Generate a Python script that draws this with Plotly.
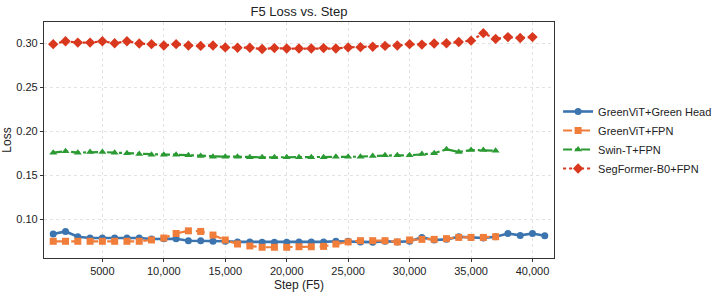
import plotly.graph_objects as go

steps = [1000 * i for i in range(1, 42)]

greenvit_gh = [0.083, 0.086, 0.080, 0.0785, 0.0786, 0.0786, 0.0785, 0.0786, 0.0774, 0.0777,
               0.0777, 0.0755, 0.0755, 0.0748, 0.0748, 0.0741, 0.0741, 0.0738, 0.0738, 0.0738,
               0.0741, 0.0741, 0.0741, 0.0748, 0.0748, 0.0741, 0.0738, 0.0748, 0.0741, 0.0748,
               0.0792, 0.0763, 0.077, 0.080, 0.0792, 0.0785, 0.080, 0.0837, 0.0815, 0.0837,
               0.081]
greenvit_fpn = [0.0748, 0.0748, 0.0748, 0.0748, 0.0748, 0.0748, 0.0748, 0.0748, 0.0763, 0.0785,
                0.0837, 0.0867, 0.086, 0.0819, 0.0763, 0.0717, 0.0695, 0.068, 0.068, 0.068,
                0.0686, 0.0686, 0.069, 0.0717, 0.0741, 0.0755, 0.0755, 0.0755, 0.0741, 0.0763,
                0.077, 0.077, 0.0778, 0.0792, 0.0792, 0.0792, 0.080]
swin_fpn = [0.1756, 0.1771, 0.1756, 0.1764, 0.1764, 0.1756, 0.1749, 0.1741, 0.1733, 0.1733,
            0.1733, 0.1726, 0.1718, 0.171, 0.171, 0.171, 0.1703, 0.1703, 0.1703, 0.1703,
            0.1703, 0.1703, 0.1703, 0.171, 0.171, 0.171, 0.1718, 0.1726, 0.1726, 0.1726,
            0.1741, 0.1749, 0.1794, 0.1764, 0.1786, 0.1786, 0.1779]
segformer_fpn = [0.299, 0.3023, 0.3008, 0.3008, 0.3023, 0.300, 0.3023, 0.2997, 0.299, 0.2975,
                 0.299, 0.2975, 0.297, 0.2975, 0.2953, 0.295, 0.295, 0.2935, 0.2945, 0.294,
                 0.294, 0.294, 0.2945, 0.294, 0.2953, 0.2956, 0.296, 0.297, 0.2975, 0.299,
                 0.2985, 0.2997, 0.300, 0.3015, 0.303, 0.3115, 0.305, 0.307, 0.306, 0.307]

x_tickvals = [5000, 10000, 15000, 20000, 25000, 30000, 35000, 40000]
x_ticktext = ["5000", "10,000", "15,000", "20,000", "25,000", "30,000", "35,000", "40,000"]
y_tickvals = [0.10, 0.15, 0.20, 0.25, 0.30]
y_ticktext = ["0.10", "0.15", "0.20", "0.25", "0.30"]

series = [
    ("GreenViT+Green Head", greenvit_gh, "#3b74ae", "solid", "circle", 2.6, 7),
    ("GreenViT+FPN", greenvit_fpn, "#f07d3a", "dash", "square", 2.2, 7),
    ("Swin-T+FPN", swin_fpn, "#2b9a33", "dashdot", "triangle-up", 2.2, 7),
    ("SegFormer-B0+FPN", segformer_fpn, "#d9381e", "dot", "diamond", 2.2, 8),
]

fig = go.Figure()
for name, vals, color, dash, sym, lw, ms in series:
    fig.add_trace(go.Scatter(
        x=steps[:len(vals)], y=vals, name=name, mode="lines+markers",
        line=dict(color=color, width=lw, dash=dash),
        marker=dict(symbol=sym, size=ms, color=color),
    ))

axis_common = dict(
    showline=True, linecolor="#333333", linewidth=1.2, mirror=True,
    showgrid=True, gridcolor="#e3e3e3", griddash="dot", gridwidth=1,
    ticks="outside", ticklen=3, tickcolor="#333333",
    tickfont=dict(family="Liberation Sans, Arial", size=11, color="#222222"),
    zeroline=False,
)

fig.update_layout(
    width=715, height=293,
    margin=dict(l=44, r=161, t=22, b=35, autoexpand=False),
    paper_bgcolor="white", plot_bgcolor="white",
    font=dict(family="Liberation Sans, Arial", size=11, color="#222222"),
    title=dict(text="F5 Loss vs. Step", x=(44 + 554) / 2 / 715, xanchor="center",
               y=1 - 11 / 293, yanchor="middle",
               font=dict(size=13, color="#222222")),
    xaxis=dict(range=[250, 41750], tickvals=x_tickvals, ticktext=x_ticktext,
               title=dict(text="Step (F5)", font=dict(size=12), standoff=4), **axis_common),
    yaxis=dict(range=[0.0558, 0.3242], tickvals=y_tickvals, ticktext=y_ticktext,
               title=dict(text="Loss", font=dict(size=12), standoff=4), **axis_common),
    legend=dict(x=1.008, xanchor="left", y=0.50, yanchor="middle",
                font=dict(size=11, color="#222222"), bgcolor="rgba(0,0,0,0)",
                tracegroupgap=0, itemwidth=30),
    showlegend=True,
)

fig.write_html("out.html")
